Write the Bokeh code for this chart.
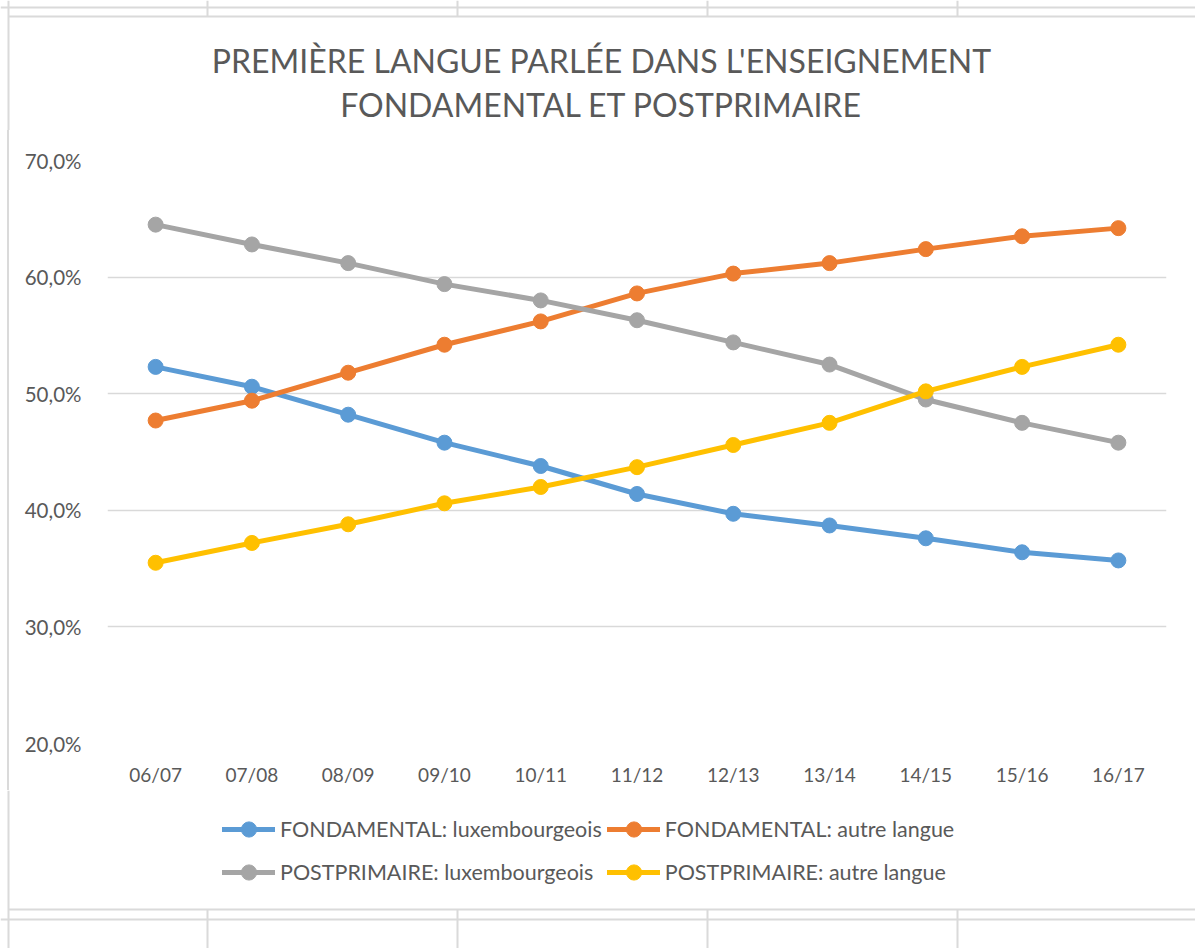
from bokeh.plotting import figure
from bokeh.models import Legend, LegendItem, FixedTicker, Range1d, Spacer
from bokeh.layouts import column, row
from bokeh.embed import file_html
from bokeh.resources import INLINE

years = ["06/07", "07/08", "08/09", "09/10", "10/11", "11/12",
         "12/13", "13/14", "14/15", "15/16", "16/17"]
fond_lux = [52.3, 50.6, 48.2, 45.8, 43.8, 41.4, 39.7, 38.7, 37.6, 36.4, 35.7]
fond_autre = [47.7, 49.4, 51.8, 54.2, 56.2, 58.6, 60.3, 61.2, 62.4, 63.5, 64.2]
post_lux = [64.5, 62.8, 61.2, 59.4, 58.0, 56.3, 54.4, 52.5, 49.5, 47.5, 45.8]
post_autre = [35.5, 37.2, 38.8, 40.6, 42.0, 43.7, 45.6, 47.5, 50.2, 52.3, 54.2]
series_names = ["FONDAMENTAL: luxembourgeois", "FONDAMENTAL: autre langue",
                "POSTPRIMAIRE: luxembourgeois", "POSTPRIMAIRE: autre langue"]
series_colors = ["#5B9BD5", "#ED7D31", "#A5A5A5", "#FFC000"]
y_ticks = [20, 30, 40, 50, 60, 70]
y_tick_labels = ["20,0%", "30,0%", "40,0%", "50,0%", "60,0%", "70,0%"]
title_lines = ["PREMIÈRE LANGUE PARLÉE DANS L'ENSEIGNEMENT",
               "FONDAMENTAL ET POSTPRIMAIRE"]

FONT = "Lato"
TXT = "#595959"
GRID = "#D9D9D9"
CELL = "#DADADA"
LW, MS = 5, 15

W, H = 1195, 948
TOP_H = 130            # title strip: page y 0..130
MID_END = 790          # main chart: page y 130..790
BOT_Y = 909            # chart bottom border
MID_H = MID_END - TOP_H
LOW_H = H - MID_END    # legend + bottom strip: page y 790..948
LEFT_W = 10
cell_x = [207, 457, 707, 957]


def blank(width, height):
    f = figure(width=width, height=height, x_range=Range1d(0, width),
               y_range=Range1d(height, 0), output_backend="svg",
               toolbar_location=None, min_border=0)
    f.axis.visible = False
    f.grid.visible = False
    f.outline_line_color = None
    f.background_fill_color = "white"
    f.border_fill_color = "white"
    return f


# ---- top strip: spreadsheet cells + title
top = blank(W, TOP_H)
top.segment(x0=[0, 8], y0=[7, 16], x1=[W, W], y1=[7, 16], line_color=CELL, line_width=2)
top.segment(x0=[8] + cell_x, y0=[0] * 5, x1=[8] + cell_x, y1=[TOP_H] + [16] * 4,
            line_color=CELL, line_width=2)
top.text(x=[601, 601], y=[60, 104], text=title_lines, text_align="center",
         text_baseline="middle", text_font={"value": FONT}, text_font_size="32px",
         text_color=TXT)

# ---- left strip: chart border
left = Spacer(width=LEFT_W, height=MID_H,
              styles={"background": "linear-gradient(to right, #ffffff 0px, #ffffff 7px, "
                                    f"{CELL} 7px, {CELL} 9px, #ffffff 9px)"})

# ---- main chart
p = figure(x_range=years, y_range=Range1d(20, 70), width=W - LEFT_W, height=MID_H,
           output_backend="svg", toolbar_location=None,
           min_border_left=107 - LEFT_W, min_border_right=W - 1166,
           min_border_top=160 - TOP_H, min_border_bottom=MID_END - 743)
p.outline_line_color = None
p.background_fill_color = "white"
p.border_fill_color = "white"

p.xgrid.grid_line_color = None
p.ygrid.grid_line_color = GRID
p.ygrid.grid_line_width = 1.5
p.yaxis.ticker = FixedTicker(ticks=y_ticks)
p.yaxis.major_label_overrides = {t: l for t, l in zip(y_ticks, y_tick_labels)}
for ax in (p.xaxis, p.yaxis):
    ax.axis_line_color = None
    ax.major_tick_line_color = None
    ax.minor_tick_line_color = None
    ax.major_label_text_font = FONT
    ax.major_label_text_color = TXT
p.xaxis.major_label_text_font_size = "19px"
p.yaxis.major_label_text_font_size = "20.5px"
p.yaxis.major_label_standoff = 20
p.xaxis.major_label_standoff = 13

for vals, col in zip([fond_lux, fond_autre, post_lux, post_autre], series_colors):
    p.line(years, vals, line_width=LW, line_color=col, line_join="round", line_cap="round")
    p.scatter(years, vals, size=MS, fill_color=col, line_color=col)

# ---- lower strip: legend, chart bottom border, spreadsheet cells
low = blank(W, LOW_H)
by = BOT_Y - MID_END
low.segment(x0=[8, 0], y0=[by, by + 10], x1=[W, W], y1=[by, by + 10], line_color=CELL, line_width=2)
low.segment(x0=[8] + cell_x, y0=[0] + [by] * 4, x1=[8] + cell_x, y1=[LOW_H] * 5,
            line_color=CELL, line_width=2)
items = []
for name, col in zip(series_names, series_colors):
    r1 = low.line(x=[-1000, -990], y=[-1000, -1000], line_width=LW, line_color=col, line_cap="round")
    r2 = low.scatter(x=[-1000], y=[-1000], size=MS, fill_color=col, line_color=col)
    items.append(LegendItem(label=name, renderers=[r1, r2]))

GH = 38
legend_top = 829 - GH / 2 - MID_END
legend = Legend(items=items, location=(222, LOW_H - legend_top - (2 * GH + 5)),
                orientation="horizontal", ncols=2,
                border_line_color=None, background_fill_alpha=0, padding=0, margin=0,
                glyph_width=53, glyph_height=GH, label_standoff=5, spacing=5,
                label_text_font=FONT, label_text_font_size="21.5px", label_text_color=TXT)
low.add_layout(legend)

layout = column(top, row(left, p), low)
open("out.html", "w").write(file_html(layout, INLINE))
